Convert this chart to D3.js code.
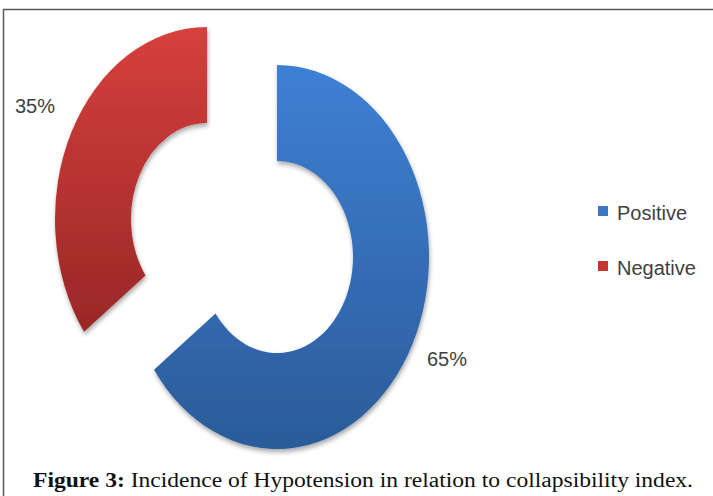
<!DOCTYPE html>
<html>
<head>
<meta charset="utf-8">
<script src="https://cdn.jsdelivr.net/npm/d3@7"></script>
<style>
  body { margin: 0; background: #fff; }
</style>
</head>
<body>
<script>
  // chart data
  var categories = ["Positive", "Negative"];
  var values = [65, 35];
  var labels = ["65%", "35%"];

  var width = 713, height = 496;
  var svg = d3.select("body").append("svg")
      .attr("width", width)
      .attr("height", height);

  var defs = svg.append("defs");
  var grads = [["#3e80d4", "#2b5b99"], ["#d6403c", "#992727"]];
  grads.forEach(function (g, i) {
    var lg = defs.append("linearGradient")
        .attr("id", "g" + i)
        .attr("x1", 0).attr("y1", 0).attr("x2", 0).attr("y2", 1);
    lg.append("stop").attr("offset", "0%").attr("stop-color", g[0]);
    lg.append("stop").attr("offset", "100%").attr("stop-color", g[1]);
  });
  var f = defs.append("filter").attr("id", "shadow")
      .attr("x", "-20%").attr("y", "-20%").attr("width", "140%").attr("height", "140%");
  f.append("feDropShadow")
      .attr("dx", 1).attr("dy", 3).attr("stdDeviation", 2.5)
      .attr("flood-color", "#000").attr("flood-opacity", 0.35);

  // frame
  svg.append("path")
      .attr("d", "M3.5," + height + "V9.5H" + width)
      .attr("fill", "none")
      .attr("stroke", "#5a5a5a")
      .attr("stroke-width", 1.5);

  // donut
  var cx = 277, cy = 257, R = 192, sx = 152 / 192;
  var explode = [[0, 0], [-70, -38]];

  var pie = d3.pie().sort(null).value(function (d) { return d; })
      .startAngle(0).endAngle(2 * Math.PI);
  var arc = d3.arc().innerRadius(R * 0.5).outerRadius(R);
  var arcs = pie(values);

  var slices = svg.selectAll("g.slice")
      .data(arcs)
      .enter()
      .append("g")
      .attr("class", "slice")
      .attr("transform", function (d, i) {
        return "translate(" + (cx + explode[i][0]) + "," + (cy + explode[i][1]) + ") scale(" + sx + ",1)";
      });

  slices.append("path")
      .attr("d", arc)
      .attr("fill", function (d, i) { return "url(#g" + i + ")"; })
      .attr("filter", "url(#shadow)");

  // data labels
  var labelPos = [[427, 366], [15, 113]];
  svg.selectAll("text.lbl")
      .data(labels)
      .enter()
      .append("text")
      .attr("class", "lbl")
      .attr("x", function (d, i) { return labelPos[i][0]; })
      .attr("y", function (d, i) { return labelPos[i][1]; })
      .attr("font-family", "'Liberation Sans', Arial, sans-serif")
      .attr("font-size", 20)
      .attr("fill", "#404040")
      .text(function (d) { return d; });

  // legend
  var legendColors = ["#3a78c6", "#c63631"];
  var legend = svg.selectAll("g.leg")
      .data(categories)
      .enter()
      .append("g")
      .attr("class", "leg")
      .attr("transform", function (d, i) { return "translate(598," + (220 + i * 55) + ")"; });
  legend.append("rect")
      .attr("x", 0).attr("y", -14)
      .attr("width", 10).attr("height", 10)
      .attr("fill", function (d, i) { return legendColors[i]; });
  legend.append("text")
      .attr("x", 19).attr("y", 0)
      .attr("font-family", "'Liberation Sans', Arial, sans-serif")
      .attr("font-size", 20)
      .attr("fill", "#404040")
      .text(function (d) { return d; });

  // caption
  var cap = svg.append("text")
      .attr("x", 33).attr("y", 487)
      .attr("font-family", "'Liberation Serif', 'Times New Roman', serif")
      .attr("font-size", 20)
      .attr("fill", "#111")
      .attr("textLength", 660)
      .attr("lengthAdjust", "spacingAndGlyphs");
  cap.append("tspan").attr("font-weight", "bold").text("Figure 3:");
  cap.append("tspan").text(" Incidence of Hypotension in relation to collapsibility index.");
</script>
</body>
</html>
